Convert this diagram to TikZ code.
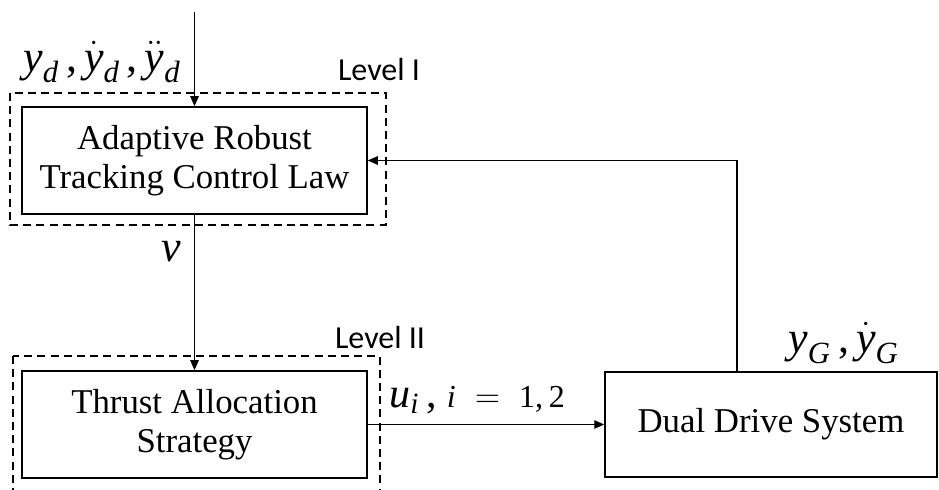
\documentclass[tikz,border=0pt]{standalone}
\usepackage{amsmath}
\usepackage{fontspec}
\setmainfont{Liberation Serif}
\newfontfamily\lvlfont{Carlito}
\usetikzlibrary{arrows.meta}
\newcommand{\vy}{\textit{y}}
\newcommand{\tc}{\textrm{,}}
\begin{document}
\begin{tikzpicture}[x=0.5pt,y=-0.5pt,
  blk/.style={draw, line width=0.75pt, inner sep=0pt, align=center,
    font=\fontsize{17.4}{19.5}\selectfont},
  conn/.style={line width=0.75pt, -{Triangle[length=5pt,width=4.2pt]}},
  dashbox/.style={draw, line width=0.75pt, dash pattern=on 4pt off 2.6pt},
  lvl/.style={font=\lvlfont\fontsize{16}{18}\selectfont, inner sep=0pt},
  mlab/.style={inner sep=0pt, font=\fontsize{22}{25}\selectfont}]
\clip (0,0) rectangle (939,490);
\useasboundingbox (0,0) rectangle (939,490);
% blocks
\node[blk, minimum width=172.5pt, minimum height=53.5pt] (A) at (194.5,160.5)
  {Adaptive Robust\\Tracking Control Law};
\node[blk, minimum width=172.5pt, minimum height=53.5pt] (T) at (194.5,424.5)
  {Thrust Allocation\\Strategy};
\node[blk, minimum width=166pt, minimum height=52.5pt] (D) at (771,424.5)
  {Dual Drive System};
% dashed level boxes
\draw[dashbox] (10,93) rectangle (386,225);
\draw[dashbox] (13,356) rectangle (380,520);
\node[lvl] (L1) at (379,70) {Level I};
\node[lvl] (L2) at (380,338) {Level II};
% connectors
\coordinate (in) at (194.5,12);
\coordinate (fb) at (737,161);
\draw[conn] (in) -- (A.north);
\draw[conn] (A.south) -- (T.north);
\draw[conn] (T.east) -- (D.west);
\draw[conn] (D.north -| fb) |- (A.east);
% labels
\node[mlab] (yd) at (102,62) {$\vy_{\textit{d}}\,\tc\,\dot{\vy}_{\textit{d}}\,\tc\,\ddot{\vy}_{\textit{d}}$};
\node[mlab] (v) at (171,252) {$\textit{v}$};
\node[inner sep=0pt, anchor=west] (u) at (389,400)
  {{\fontsize{21}{24}\selectfont$\textit{u}_{\textit{i}}\,\tc$}\ \ {\fontsize{16}{18}\selectfont$\textit{i}\;=\;\textrm{1}\textrm{,}\,\textrm{2}$}};
\node[mlab, anchor=west] (yg) at (788,343) {$\vy_{\textit{G}}\,\tc\,\dot{\vy}_{\textit{G}}$};
\end{tikzpicture}
\end{document}
